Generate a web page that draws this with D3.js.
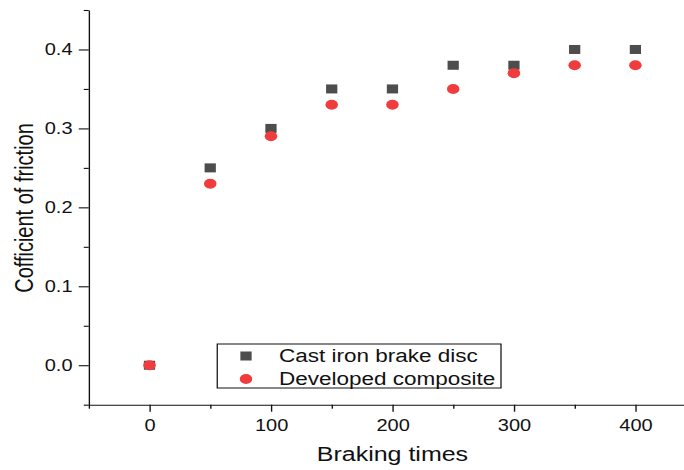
<!DOCTYPE html>
<html>
<head>
<meta charset="utf-8">
<script src="https://cdn.jsdelivr.net/npm/d3@7"></script>
<style>
  body { margin: 0; background: #fff; }
  svg text { font-family: Arial, "Liberation Sans", sans-serif; fill: #111; }
</style>
</head>
<body>
<svg id="chart"></svg>
<script>
// data
const brakingTimes = [0, 50, 100, 150, 200, 250, 300, 350, 400];
const castIron = [0, 0.25, 0.30, 0.35, 0.35, 0.38, 0.38, 0.40, 0.40];
const composite = [0, 0.23, 0.29, 0.33, 0.33, 0.35, 0.37, 0.38, 0.38];
const seriesNames = ['Cast iron brake disc', 'Developed composite'];
const xTicks = [0, 100, 200, 300, 400];
const xMinor = [-50, 50, 150, 250, 350];
const yTicks = [0, 0.1, 0.2, 0.3, 0.4];
const yMinor = [-0.05, 0.05, 0.15, 0.25, 0.35, 0.45];

const W = 684, H = 470;
// the original figure is stretched sideways, so draw in a squeezed frame
const stretch = 1.25;
const innerW = W / stretch;

const svg = d3.select('#chart').attr('width', W).attr('height', H);
const g = svg.append('g').attr('transform', `scale(${stretch},1)`);

const x = d3.scaleLinear().domain([-50, 440]).range([71, innerW]);
const y = d3.scaleLinear().domain([-0.05, 0.45]).range([404.7, 10]);

// minor ticks first, then major axes
g.append('g')
    .attr('transform', `translate(0,${y(-0.05)})`)
    .call(d3.axisBottom(x).tickValues(xMinor).tickSize(4).tickFormat(''))
    .call(a => a.select('.domain').remove());
g.append('g')
    .attr('transform', `translate(${x(-50)},0)`)
    .call(d3.axisLeft(y).tickValues(yMinor).tickSize(4).tickFormat(''))
    .call(a => a.select('.domain').remove());

const xAxis = g.append('g')
    .attr('transform', `translate(0,${y(-0.05)})`)
    .call(d3.axisBottom(x).tickValues(xTicks).tickSize(7).tickSizeOuter(0).tickPadding(8).tickFormat(d3.format('d')));
const yAxis = g.append('g')
    .attr('transform', `translate(${x(-50)},0)`)
    .call(d3.axisLeft(y).tickValues(yTicks).tickSize(8).tickSizeOuter(0).tickPadding(5).tickFormat(d3.format('.1f')));

for (const a of [xAxis, yAxis]) {
  a.selectAll('path, line').attr('stroke', '#111').attr('stroke-width', 1.1);
  a.selectAll('text').attr('font-size', 16).style('fill', '#111');
}
g.selectAll('.tick line').attr('stroke', '#111').attr('stroke-width', 1.1);

// axis titles
g.append('text')
    .attr('x', x(200))
    .attr('y', 461)
    .attr('text-anchor', 'middle')
    .attr('font-size', 20)
    .text('Braking times');
g.append('text')
    .attr('transform', `translate(${24 / stretch + 7},208) rotate(-90)`)
    .attr('text-anchor', 'middle')
    .attr('font-size', 20)
    .text('Cofficient of friction');

// points
const castData = brakingTimes.map((t, i) => ({ t, v: castIron[i] }));
const compData = brakingTimes.map((t, i) => ({ t, v: composite[i] }));
const sq = 9;

g.selectAll('.cast').data(castData).join('rect')
    .attr('class', 'cast')
    .attr('x', d => x(d.t) - sq / 2)
    .attr('y', d => y(d.v) - sq / 2)
    .attr('width', sq).attr('height', sq)
    .attr('fill', '#4d4d4d');

g.selectAll('.comp').data(compData).join('circle')
    .attr('class', 'comp')
    .attr('cx', d => x(d.t))
    .attr('cy', d => y(d.v))
    .attr('r', 5)
    .attr('fill', '#f03c3c');

// legend
const lg = g.append('g').attr('transform', 'translate(173.8,344)');
lg.append('rect')
    .attr('width', 227).attr('height', 44)
    .attr('fill', '#fff').attr('stroke', '#111').attr('stroke-width', 1);
lg.append('rect')
    .attr('x', 23 - sq / 2).attr('y', 12 - sq / 2)
    .attr('width', sq).attr('height', sq).attr('fill', '#4d4d4d');
lg.append('circle')
    .attr('cx', 23).attr('cy', 35).attr('r', 5).attr('fill', '#f03c3c');
lg.selectAll('.ltxt').data(seriesNames).join('text')
    .attr('class', 'ltxt')
    .attr('x', 49.4)
    .attr('y', (d, i) => 12 + i * 23)
    .attr('dy', '0.35em')
    .attr('font-size', 18)
    .text(d => d);
</script>
</body>
</html>
